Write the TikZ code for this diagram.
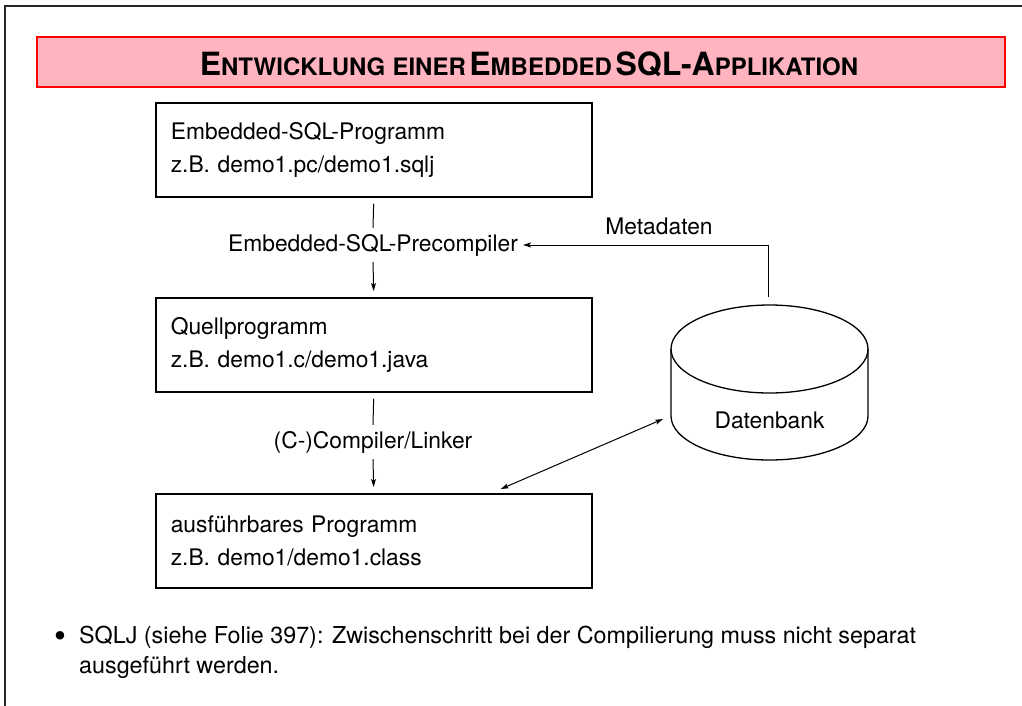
\documentclass[tikz,border=0pt]{standalone}
\usepackage{fontspec}
\setmainfont{TeX Gyre Heros}
\usetikzlibrary{positioning,arrows.meta}

\definecolor{bannerpink}{RGB}{255,180,192}
\definecolor{bannerred}{RGB}{255,0,0}

% small caps by hand: big first letter, smaller rest
\newcommand{\bigsc}[2]{{\fontsize{32}{36}\selectfont #1}{\fontsize{24}{36}\selectfont #2}}

\tikzset{
  txt/.style={font=\fontsize{22.8}{33}\selectfont},
  progbox/.style={draw, line width=1.6pt, txt, align=left, anchor=north west,
    minimum width=436pt, minimum height=94pt, text width=406pt, inner xsep=15pt},
  steplabel/.style={txt, inner xsep=5pt, inner ysep=6pt},
  arr/.style={line width=1pt, -{Stealth[length=8pt,width=5pt,inset=2pt]}},
  dbl/.style={line width=1pt, {Stealth[length=8pt,width=5pt,inset=2pt]}-{Stealth[length=8pt,width=5pt,inset=2pt]}},
}

\begin{document}
\begin{tikzpicture}[x=1pt,y=1pt]
  \useasboundingbox (0,0) rectangle (1022,-705);
  % page frame
  \draw[line width=1.5pt, black!85] (1030,-6) -- (5,-6) -- (5,-720);

  % banner
  \node[draw=bannerred, fill=bannerpink, line width=1.6pt, minimum width=968pt,
        minimum height=50pt, inner sep=0pt] (banner) at (521,-62) {};
  \node[anchor=base] (title) at (529,-75)
        {\bfseries\bigsc{E}{NTWICKLUNG\hspace{0.3em}EINER}\hspace{0.35em}\bigsc{E}{MBEDDED}\hspace{0.35em}\bigsc{SQL-A}{PPLIKATION}};

  % processing steps
  \node[progbox] (prog) at (155,-102) {Embedded-SQL-Programm\\z.B. demo1.pc/demo1.sqlj};
  \node[steplabel] (pre) at (373,-245) {Embedded-SQL-Precompiler};
  \node[progbox] (src) at (155,-297) {Quellprogramm\\z.B. demo1.c/demo1.java};
  \node[steplabel] (cc) at (373,-442) {(C-)Compiler/Linker};
  \node[progbox] (exe) at (155,-493) {ausführbares Programm\\z.B. demo1/demo1.class};

  \draw[line width=1pt, shorten <=6pt] (prog.south) -- (pre.north);
  \draw[arr, shorten >=6pt] (pre.south) -- (src.north);
  \draw[line width=1pt, shorten <=6pt] (src.south) -- (cc.north);
  \draw[arr, shorten >=6pt] (cc.south) -- (exe.north);

  % database
  \draw[line width=1.3pt] (671,-349) -- (671,-416)
    arc[start angle=180, end angle=360, x radius=98.5, y radius=44] -- (868,-349);
  \draw[line width=1.3pt] (769.5,-349) ellipse[x radius=98.5, y radius=44];
  \node[txt] (db) at (769.5,-420) {Datenbank};
  \coordinate (dbtop) at (768,-297);
  \coordinate (dbport) at (663,-419);

  \draw[arr] (dbtop) |- (pre.east);
  \node[txt] (meta) at (659,-226) {Metadaten};
  \draw[dbl] (dbport) -- ([shift={(127pt,4pt)}]exe.north);

  % remark below
  \node[font=\fontsize{34}{36}\selectfont, anchor=base, inner sep=0pt] (dot) at (60,-647) {\textbullet};
  \node[font=\fontsize{23.3}{30}\selectfont, anchor=base west, align=left, inner sep=0pt] (note) at (79,-673)
    {SQLJ (siehe Folie 397): Zwischenschritt bei der Compilierung muss nicht separat\\ausgeführt werden.};
\end{tikzpicture}
\end{document}
